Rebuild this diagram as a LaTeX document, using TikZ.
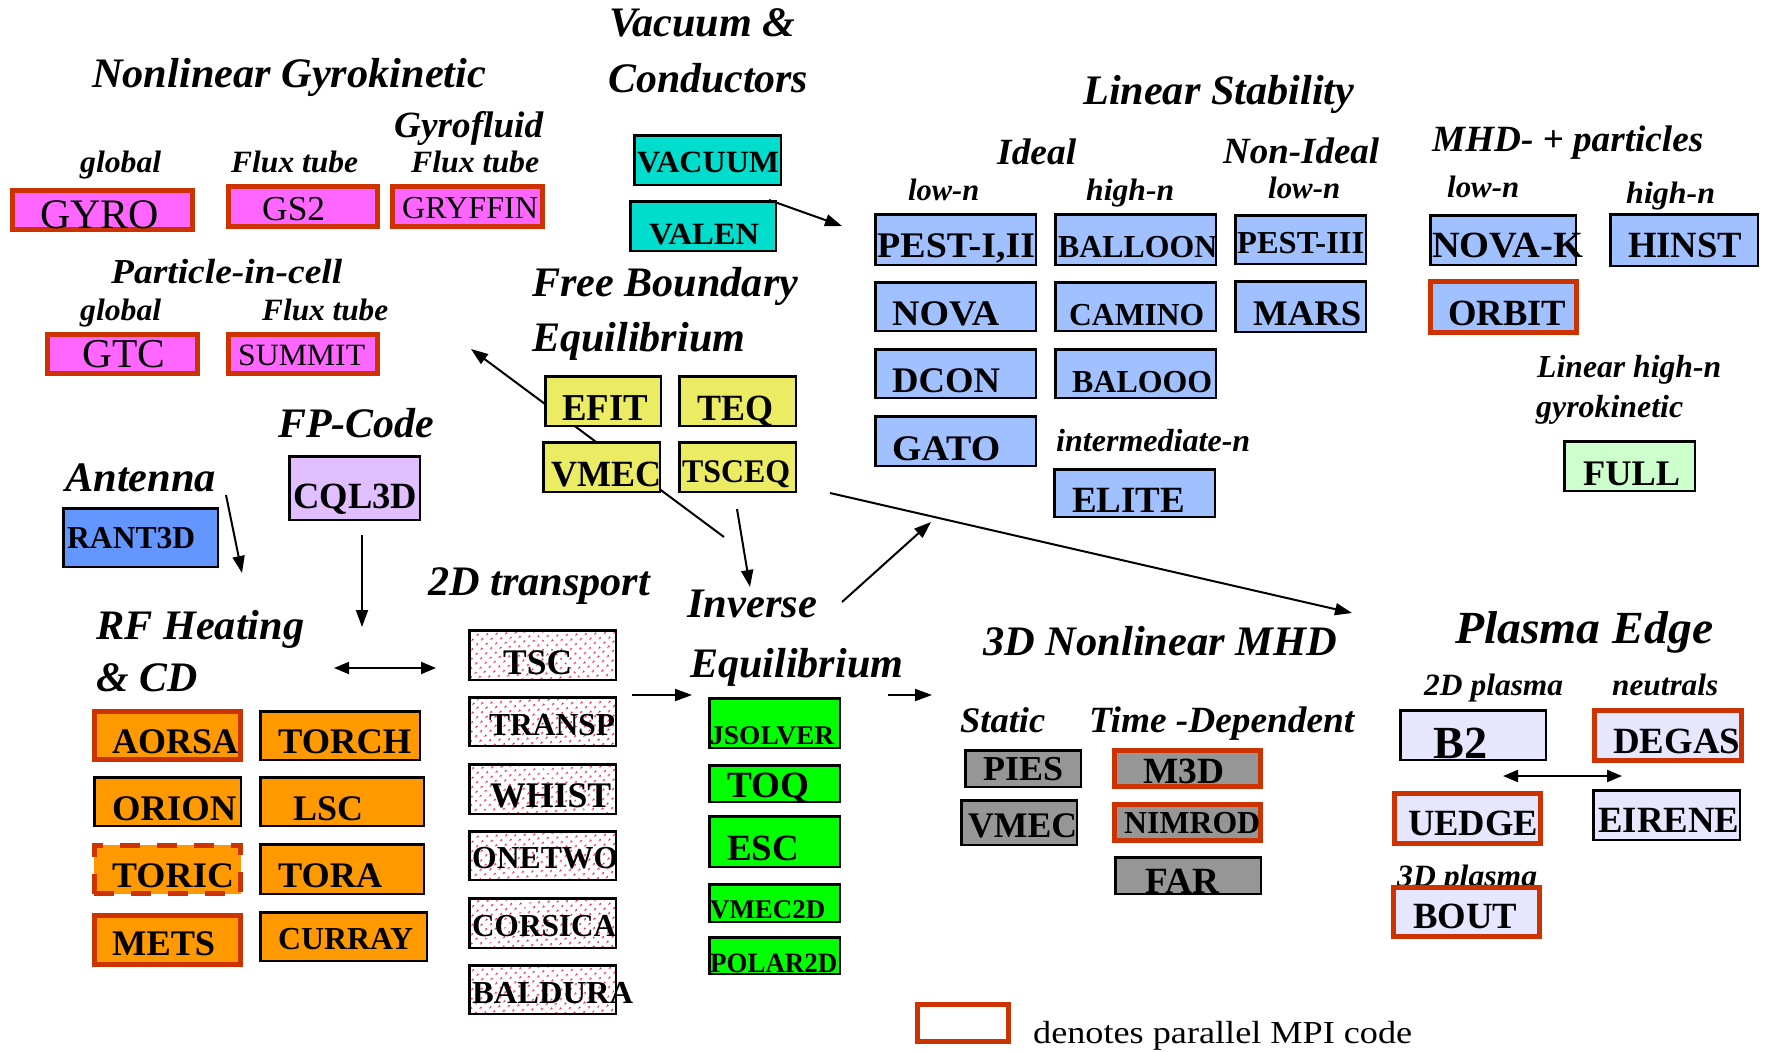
\documentclass[tikz,border=0pt]{standalone}
\usepackage{fontspec}
\setmainfont{Liberation Serif}
\usepackage{graphicx}
\usetikzlibrary{arrows.meta,patterns.meta}
\definecolor{mpired}{RGB}{204,51,0}
\definecolor{magbox}{RGB}{255,102,255}
\definecolor{tealbox}{RGB}{0,221,204}
\definecolor{lsblue}{RGB}{160,192,255}
\definecolor{antblue}{RGB}{100,150,255}
\definecolor{cqlpurple}{RGB}{225,190,255}
\definecolor{yelbox}{RGB}{235,235,100}
\definecolor{orabox}{RGB}{255,153,0}
\definecolor{grnbox}{RGB}{0,255,0}
\definecolor{ltgrn}{RGB}{204,255,204}
\definecolor{graybox}{RGB}{150,150,150}
\definecolor{lavbox}{RGB}{230,230,255}
\definecolor{dotred}{RGB}{240,20,60}
\newsavebox\fitbox
\newcommand\fitto[2]{\sbox\fitbox{#2}\pgfmathsetmacro\fitsx{#1/\the\wd\fitbox}\scalebox{\fitsx}[1]{\usebox\fitbox}}
\tikzset{
  bi/.style={font=\fontsize{#1}{#1}\selectfont\bfseries\itshape, inner sep=0pt, anchor=base west},
  bt/.style={font=\fontsize{#1}{#1}\selectfont\bfseries, inner sep=0pt, anchor=base west},
  rt/.style={font=\fontsize{#1}{#1}\selectfont, inner sep=0pt, anchor=base west},
  kb/.style={draw=black, line width=2.5pt, inner sep=0pt, outer sep=0pt},
  rb/.style={draw=mpired, line width=4.6pt, inner sep=0pt, outer sep=0pt},
  arr/.style={line width=2pt, -{Triangle[length=17pt,width=12pt]}},
  darr/.style={line width=2pt, {Triangle[length=15pt,width=12pt]}-{Triangle[length=15pt,width=12pt]}},
}
\newcommand\tx[5]{\node[#2] (#1) at (#3) {\fitto{#4}{#5}};}
\newcommand\kbox[6]{\node[kb,fill=#2,minimum width={#5-#3-2.5},minimum height={#6-#4-2.5}] (#1) at ({(#3+#5)/2},{(#4+#6)/2}) {};}
\newcommand\rbox[6]{\node[rb,fill=#2,minimum width={#5-#3-4.6},minimum height={#6-#4-4.6}] (#1) at ({(#3+#5)/2},{(#4+#6)/2}) {};}
\newcommand\dbox[5]{\node[kb,preaction={fill=white},pattern={Dots[distance=6.5pt,radius=1.3pt,angle=45]},pattern color=dotred,minimum width={#4-#2-2.5},minimum height={#5-#3-2.5}] (#1) at ({(#2+#4)/2},{(#3+#5)/2}) {};}
\begin{document}
\begin{tikzpicture}[x=1pt,y=-1pt]
\useasboundingbox (0,0) rectangle (1765,1052);
\fill[white] (0,0) rectangle (1765,1052);
% ---------- connectors ----------
\coordinate (a1s) at (724,537); \coordinate (a1e) at (471,349);
\coordinate (a2s) at (769,200); \coordinate (a2e) at (842,226);
\coordinate (a3s) at (830,493); \coordinate (a3e) at (1352,613);
\coordinate (a4s) at (842,602); \coordinate (a4e) at (931,522);
\coordinate (a5s) at (737,509); \coordinate (a5e) at (750,587);
\coordinate (a6s) at (226,495); \coordinate (a6e) at (242,573);
\coordinate (a7s) at (362,535); \coordinate (a7e) at (362,627);
\coordinate (a8s) at (334,668); \coordinate (a8e) at (436,668);
\coordinate (a9s) at (632,695); \coordinate (a9e) at (692,695);
\coordinate (a10s) at (888,695); \coordinate (a10e) at (932,695);
\coordinate (a11s) at (1503,776); \coordinate (a11e) at (1622,776);
\draw[arr] (a1s) -- (a1e);
\draw[arr] (a2s) -- (a2e);
\draw[arr] (a3s) -- (a3e);
\draw[arr] (a4s) -- (a4e);
\draw[arr] (a5s) -- (a5e);
\draw[arr] (a6s) -- (a6e);
\draw[arr] (a7s) -- (a7e);
\draw[darr] (a8s) -- (a8e);
\draw[arr] (a9s) -- (a9e);
\draw[arr] (a10s) -- (a10e);
\draw[darr] (a11s) -- (a11e);
% ---------- headings ----------
\tx{tnlg}{bi=42}{92,87}{394}{Nonlinear Gyrokinetic}
\tx{tgyf}{bi=37}{394,137}{149}{Gyrofluid}
\tx{tglobA}{bi=31}{80,172}{81}{global}
\tx{tfluxA}{bi=31}{231,172}{127}{Flux tube}
\tx{tfluxB}{bi=31}{411,172}{128}{Flux tube}
\tx{tpic}{bi=35}{111,283}{231}{Particle-in-cell}
\tx{tglobB}{bi=31}{80,320}{81}{global}
\tx{tfluxC}{bi=31}{262,320}{126}{Flux tube}
\tx{tvacA}{bi=42}{609,36}{186}{Vacuum \&}
\tx{tvacB}{bi=42}{608,92}{200}{Conductors}
\tx{tfbA}{bi=42}{532,296}{266}{Free Boundary}
\tx{tfbB}{bi=42}{532,351}{213}{Equilibrium}
\tx{tls}{bi=42}{1083,104}{271}{Linear Stability}
\tx{tideal}{bi=37}{997,164}{79}{Ideal}
\tx{tnonid}{bi=37}{1223,163}{156}{Non-Ideal}
\tx{tlownA}{bi=31}{908,200}{71}{low-n}
\tx{thighnA}{bi=31}{1086,200}{88}{high-n}
\tx{tlownB}{bi=31}{1268,198}{72}{low-n}
\tx{tmhdp}{bi=37}{1432,151}{271}{MHD- + particles}
\tx{tlownC}{bi=31}{1447,197}{72}{low-n}
\tx{thighnB}{bi=31}{1626,203}{89}{high-n}
\tx{tinterm}{bi=32}{1056,451}{194}{intermediate-n}
\tx{tlinh}{bi=32}{1537,377}{184}{Linear high-n}
\tx{tgyk}{bi=32}{1536,417}{147}{gyrokinetic}
\tx{tfp}{bi=42}{278,437}{156}{FP-Code}
\tx{tant}{bi=42}{65,491}{151}{Antenna}
\tx{trfA}{bi=42}{96,639}{208}{RF Heating}
\tx{trfB}{bi=42}{96,691}{101}{\& CD}
\tx{ttr}{bi=42}{428,595}{222}{2D transport}
\tx{tinvA}{bi=42}{687,617}{130}{Inverse}
\tx{tinvB}{bi=42}{690,677}{213}{Equilibrium}
\tx{tnm}{bi=42}{983,655}{354}{3D Nonlinear MHD}
\tx{tstat}{bi=36}{960,732}{85}{Static}
\tx{ttimed}{bi=37}{1089,732}{265}{Time -Dependent}
\tx{tpe}{bi=46}{1455,643}{258}{Plasma Edge}
\tx{tptwo}{bi=31}{1424,695}{139}{2D plasma}
\tx{tneut}{bi=31}{1612,695}{106}{neutrals}
\tx{tpthree}{bi=31}{1397,886}{140}{3D plasma}
\tx{tlegend}{rt=32}{1033,1043}{379}{denotes parallel MPI code}
% ---------- boxes ----------
\rbox{bGYRO}{magbox}{10}{188}{195}{232}
\rbox{bGSTWO}{magbox}{226}{184}{380}{229}
\rbox{bGRYFFIN}{magbox}{390}{184}{545}{229}
\rbox{bGTC}{magbox}{45}{332}{200}{376}
\rbox{bSUMMIT}{magbox}{226}{332}{380}{376}
\kbox{bVACUUM}{tealbox}{633}{134}{782}{186}
\kbox{bVALEN}{tealbox}{629}{200}{777}{252}
\kbox{bEFIT}{yelbox}{544}{375}{662}{427}
\kbox{bTEQ}{yelbox}{678}{375}{797}{427}
\kbox{bVMECy}{yelbox}{542}{441}{661}{493}
\kbox{bTSCEQ}{yelbox}{678}{441}{797}{493}
\kbox{bPESTa}{lsblue}{874}{213}{1037}{266}
\kbox{bNOVA}{lsblue}{874}{281}{1037}{332}
\kbox{bDCON}{lsblue}{874}{348}{1037}{399}
\kbox{bGATO}{lsblue}{874}{415}{1037}{467}
\kbox{bBALLOON}{lsblue}{1054}{213}{1217}{266}
\kbox{bCAMINO}{lsblue}{1054}{281}{1217}{332}
\kbox{bBALOOO}{lsblue}{1054}{348}{1217}{399}
\kbox{bELITE}{lsblue}{1053}{468}{1216}{518}
\kbox{bPESTb}{lsblue}{1234}{214}{1367}{265}
\kbox{bMARS}{lsblue}{1234}{280}{1367}{333}
\kbox{bNOVAK}{lsblue}{1429}{214}{1577}{266}
\kbox{bHINST}{lsblue}{1609}{213}{1759}{267}
\rbox{bORBIT}{lsblue}{1428}{279}{1579}{335}
\kbox{bFULL}{ltgrn}{1563}{440}{1696}{492}
\kbox{bCQL}{cqlpurple}{288}{455}{421}{521}
\kbox{bRANT}{antblue}{62}{507}{219}{568}
\rbox{bAORSA}{orabox}{92}{709}{243}{762}
\kbox{bTORCH}{orabox}{259}{710}{421}{761}
\kbox{bORION}{orabox}{93}{776}{242}{827}
\kbox{bLSC}{orabox}{259}{776}{425}{827}
\node[rb,dash pattern=on 20pt off 17pt,fill=orabox,minimum width={151-4.6},minimum height={53-4.6}] (bTORIC) at (167.5,869.5) {};
\kbox{bTORA}{orabox}{259}{843}{425}{895}
\rbox{bMETS}{orabox}{92}{913}{243}{967}
\kbox{bCURRAY}{orabox}{259}{911}{428}{962}
\dbox{bTSC}{468}{629}{617}{681}
\dbox{bTRANSP}{468}{696}{617}{747}
\dbox{bWHIST}{468}{763}{617}{815}
\dbox{bONETWO}{468}{830}{617}{881}
\dbox{bCORSICA}{468}{897}{617}{949}
\dbox{bBALDURA}{468}{964}{617}{1015}
\kbox{bJSOLVER}{grnbox}{708}{697}{841}{749}
\kbox{bTOQ}{grnbox}{708}{764}{841}{803}
\kbox{bESC}{grnbox}{708}{815}{841}{868}
\kbox{bVMECtwo}{grnbox}{708}{883}{841}{923}
\kbox{bPOLAR}{grnbox}{708}{936}{841}{975}
\kbox{bPIES}{graybox}{964}{749}{1082}{788}
\kbox{bVMECg}{graybox}{960}{799}{1078}{846}
\rbox{bMTHREE}{graybox}{1112}{748}{1263}{789}
\rbox{bNIMROD}{graybox}{1112}{802}{1263}{843}
\kbox{bFAR}{graybox}{1114}{856}{1262}{895}
\kbox{bBTWO}{lavbox}{1399}{709}{1547}{761}
\rbox{bDEGAS}{lavbox}{1592}{708}{1744}{763}
\rbox{bUEDGE}{lavbox}{1392}{791}{1543}{846}
\kbox{bEIRENE}{lavbox}{1592}{789}{1741}{841}
\rbox{bBOUT}{lavbox}{1391}{885}{1542}{939}
\rbox{bLEGEND}{white}{915}{1002}{1011}{1044}
% ---------- box texts ----------
\tx{tGYRO}{rt=42}{40,228}{119}{GYRO}
\tx{tGSTWO}{rt=35}{262,220}{63}{GS2}
\tx{tGRYFFIN}{rt=32}{402,218}{136}{GRYFFIN}
\tx{tGTC}{rt=41}{82,367}{83}{GTC}
\tx{tSUMMIT}{rt=31}{238,365}{127}{SUMMIT}
\tx{tVACUUM}{bt=31}{637,172}{142}{VACUUM}
\tx{tVALEN}{bt=31}{649,244}{110}{VALEN}
\tx{tEFIT}{bt=38}{562,420}{86}{EFIT}
\tx{tTEQ}{bt=37}{697,420}{76}{TEQ}
\tx{tVMECy}{bt=37}{551,486}{110}{VMEC}
\tx{tTSCEQ}{bt=33}{682,482}{108}{TSCEQ}
\tx{tPESTa}{bt=36}{877,257}{158}{PEST-I,II}
\tx{tNOVA}{bt=36}{892,325}{107}{NOVA}
\tx{tDCON}{bt=36}{892,392}{108}{DCON}
\tx{tGATO}{bt=36}{892,460}{108}{GATO}
\tx{tBALLOON}{bt=32}{1058,257}{159}{BALLOON}
\tx{tCAMINO}{bt=32}{1069,325}{135}{CAMINO}
\tx{tBALOOO}{bt=32}{1072,392}{140}{BALOOO}
\tx{tELITE}{bt=37}{1072,512}{113}{ELITE}
\tx{tPESTb}{bt=32}{1237,253}{127}{PEST-III}
\tx{tMARS}{bt=36}{1253,325}{108}{MARS}
\tx{tNOVAK}{bt=37}{1432,257}{151}{NOVA-K}
\tx{tHINST}{bt=37}{1628,257}{114}{HINST}
\tx{tORBIT}{bt=37}{1448,325}{118}{ORBIT}
\tx{tFULL}{bt=36}{1583,485}{97}{FULL}
\tx{tCQL}{bt=37}{293,508}{124}{CQL3D}
\tx{tRANT}{bt=32}{67,548}{128}{RANT3D}
\tx{tAORSA}{bt=36}{112,753}{126}{AORSA}
\tx{tTORCH}{bt=36}{278,753}{133}{TORCH}
\tx{tORION}{bt=36}{112,820}{124}{ORION}
\tx{tLSC}{bt=36}{293,820}{70}{LSC}
\tx{tTORIC}{bt=36}{112,887}{122}{TORIC}
\tx{tTORA}{bt=36}{278,887}{104}{TORA}
\tx{tMETS}{bt=36}{112,955}{103}{METS}
\tx{tCURRAY}{bt=32}{278,949}{135}{CURRAY}
\tx{tTSC}{bt=36}{503,674}{69}{TSC}
\tx{tTRANSP}{bt=32}{489,735}{126}{TRANSP}
\tx{tWHIST}{bt=36}{490,807}{121}{WHIST}
\tx{tONETWO}{bt=32}{472,868}{146}{ONETWO}
\tx{tCORSICA}{bt=32}{472,936}{144}{CORSICA}
\tx{tBALDURA}{bt=32}{472,1003}{161}{BALDURA}
\tx{tJSOLVER}{bt=27}{710,744}{124}{JSOLVER}
\tx{tTOQ}{bt=37}{727,797}{82}{TOQ}
\tx{tESC}{bt=37}{727,860}{72}{ESC}
\tx{tVMECtwo}{bt=27}{710,918}{115}{VMEC2D}
\tx{tPOLAR}{bt=28}{710,972}{127}{POLAR2D}
\tx{tPIES}{bt=35}{983,780}{80}{PIES}
\tx{tVMECg}{bt=36}{968,837}{109}{VMEC}
\tx{tMTHREE}{bt=37}{1143,783}{81}{M3D}
\tx{tNIMROD}{bt=32}{1124,833}{136}{NIMROD}
\tx{tFAR}{bt=37}{1145,893}{74}{FAR}
\tx{tBTWO}{bt=46}{1433,758}{54}{B2}
\tx{tDEGAS}{bt=37}{1613,753}{127}{DEGAS}
\tx{tUEDGE}{bt=37}{1408,835}{130}{UEDGE}
\tx{tEIRENE}{bt=37}{1598,832}{141}{EIRENE}
\tx{tBOUT}{bt=37}{1413,928}{104}{BOUT}
\end{tikzpicture}
\end{document}
